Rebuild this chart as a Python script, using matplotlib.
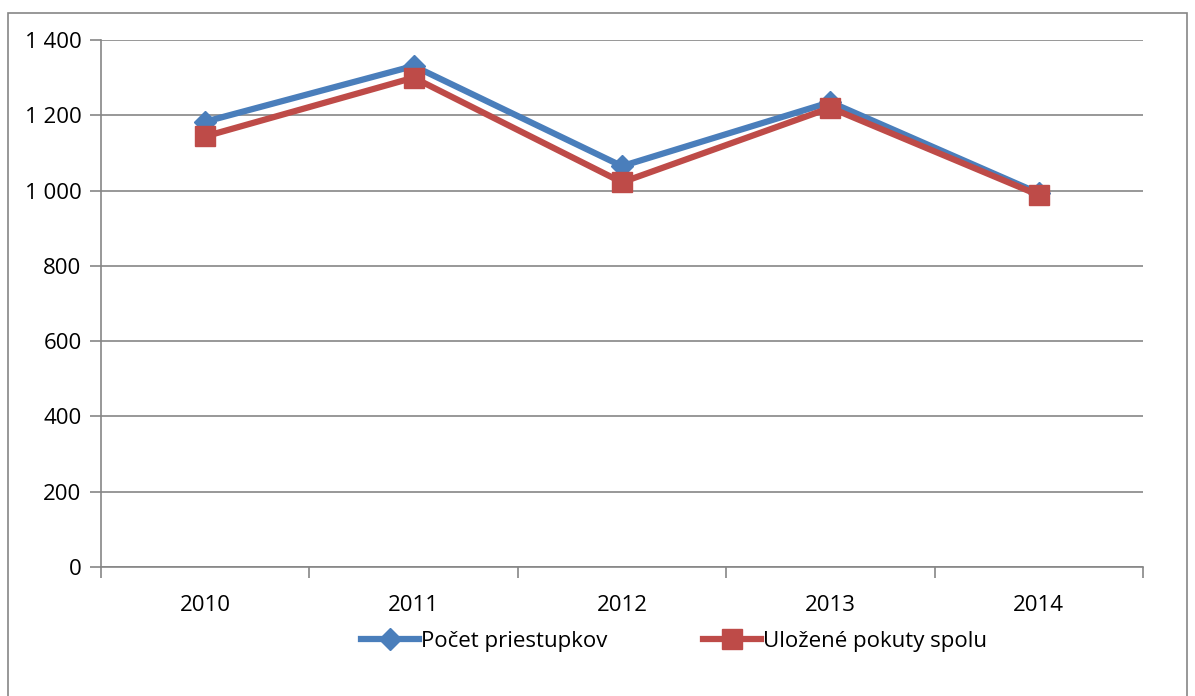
import numpy as np
import matplotlib.pyplot as plt
from matplotlib.patches import Rectangle

years = ['2010', '2011', '2012', '2013', '2014']
pocet_priestupkov = [1183, 1331, 1065, 1235, 993]
ulozene_pokuty = [1144, 1300, 1022, 1220, 988]
y_ticks = [0, 200, 400, 600, 800, 1000, 1200, 1400]

plt.rcParams['font.family'] = ['Open Sans', 'DejaVu Sans']

fig = plt.figure(figsize=(11.95, 6.96), dpi=100)
ax = fig.add_axes([0.0845, 0.1853, 0.872, 0.7572])

x = np.arange(len(years))
ax.plot(x, pocet_priestupkov, color='#4A7EBB', lw=4.5, marker='D',
        markersize=11, label='Počet priestupkov', zorder=3)
ax.plot(x, ulozene_pokuty, color='#BE4B48', lw=4.5, marker='s',
        markersize=14, label='Uložené pokuty spolu', zorder=4)

ax.set_xlim(-0.5, len(years) - 0.5)
ax.set_ylim(0, 1400)
ax.set_yticks(y_ticks)
ax.set_yticklabels([f'{v:,}'.replace(',', ' ') for v in y_ticks], fontsize=16)
ax.set_xticks(x)
ax.set_xticklabels(years, fontsize=16)
ax.set_xticks(np.arange(-0.5, len(years)), minor=True)
ax.tick_params(axis='x', which='major', length=0, pad=20)
ax.tick_params(axis='x', which='minor', length=8, color='#868686', width=1.2)
ax.tick_params(axis='y', length=8, color='#868686', width=1.2, pad=6)

ax.grid(axis='y', color='#868686', lw=1.2)
ax.set_axisbelow(True)
for side in ['top', 'right']:
    ax.spines[side].set_visible(False)
for side in ['left', 'bottom']:
    ax.spines[side].set_color('#868686')
    ax.spines[side].set_linewidth(1.2)

fig.legend(*ax.get_legend_handles_labels(), loc='center',
           bbox_to_anchor=(674 / 1195, 1 - 641 / 696), ncol=2,
           frameon=False, fontsize=16, handlelength=2.6, handletextpad=0.1,
           columnspacing=4.3)

# outer chart border
fig.patches.append(Rectangle((8 / 1195, -0.05), 1179 / 1195, 1.05 - 13 / 696,
                             transform=fig.transFigure, fill=False,
                             edgecolor='#868686', lw=1.2))

fig.savefig('out.png', dpi=100)
